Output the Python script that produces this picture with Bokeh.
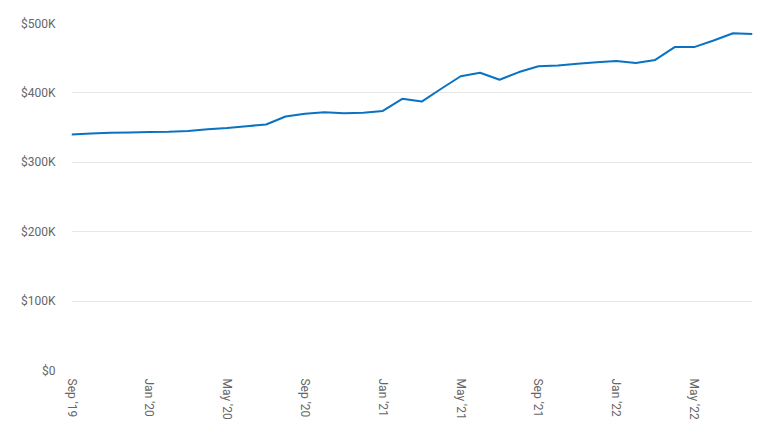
from bokeh.plotting import figure
from bokeh.models import FixedTicker, Range1d
from bokeh.embed import file_html
from bokeh.resources import INLINE

# Data: monthly median price, Sep 2019 - Aug 2022
months = ["Sep '19", "Oct '19", "Nov '19", "Dec '19",
          "Jan '20", "Feb '20", "Mar '20", "Apr '20",
          "May '20", "Jun '20", "Jul '20", "Aug '20",
          "Sep '20", "Oct '20", "Nov '20", "Dec '20",
          "Jan '21", "Feb '21", "Mar '21", "Apr '21",
          "May '21", "Jun '21", "Jul '21", "Aug '21",
          "Sep '21", "Oct '21", "Nov '21", "Dec '21",
          "Jan '22", "Feb '22", "Mar '22", "Apr '22",
          "May '22", "Jun '22", "Jul '22", "Aug '22"]
prices = [340000, 341500, 342500, 343000, 343500, 344000, 345000, 347500,
          349500, 352000, 354500, 366000, 370000, 372000, 370500, 371500,
          374000, 391500, 387500, 406000, 424000, 429000, 419000, 430000,
          438500, 439500, 442000, 444000, 446000, 443000, 447500, 466000,
          466000, 475500, 486000, 485000]
y_ticks = [0, 100000, 200000, 300000, 400000, 500000]
y_tick_labels = ["$0", "$100K", "$200K", "$300K", "$400K", "$500K"]
x_tick_every = 4

idx = list(range(len(months)))

p = figure(width=760, height=430, output_backend="svg", toolbar_location=None,
           x_range=Range1d(0, len(months) - 1), y_range=Range1d(0, 500000),
           min_border_left=71, min_border_right=8, min_border_top=23,
           min_border_bottom=60)
p.outline_line_color = None
p.background_fill_color = "white"
p.border_fill_color = "white"

p.line(idx, prices, line_color="#0A72C2", line_width=2)

FONT = "Roboto"
LABEL_COLOR = "#666666"

# x axis
xt = idx[::x_tick_every]
p.xaxis.ticker = FixedTicker(ticks=xt)
p.xaxis.major_label_overrides = {i: months[i] for i in xt}
p.xaxis.major_label_orientation = "vertical"
p.xaxis.axis_line_color = None
p.xaxis.major_tick_line_color = None
p.xaxis.minor_tick_line_color = None
p.xaxis.major_label_text_font = FONT
p.xaxis.major_label_text_font_size = "12px"
p.xaxis.major_label_text_color = LABEL_COLOR
p.xaxis.major_label_standoff = 2

# y axis
p.yaxis.ticker = FixedTicker(ticks=y_ticks)
p.yaxis.major_label_overrides = dict(zip(y_ticks, y_tick_labels))
p.yaxis.axis_line_color = None
p.yaxis.major_tick_line_color = None
p.yaxis.minor_tick_line_color = None
p.yaxis.major_label_text_font = FONT
p.yaxis.major_label_text_font_size = "12px"
p.yaxis.major_label_text_color = LABEL_COLOR
p.yaxis.major_label_standoff = 10

p.xgrid.grid_line_color = None
p.ygrid.grid_line_color = "#e6e6e6"
p.ygrid.grid_line_width = 1

open("out.html", "w").write(file_html(p, INLINE))
